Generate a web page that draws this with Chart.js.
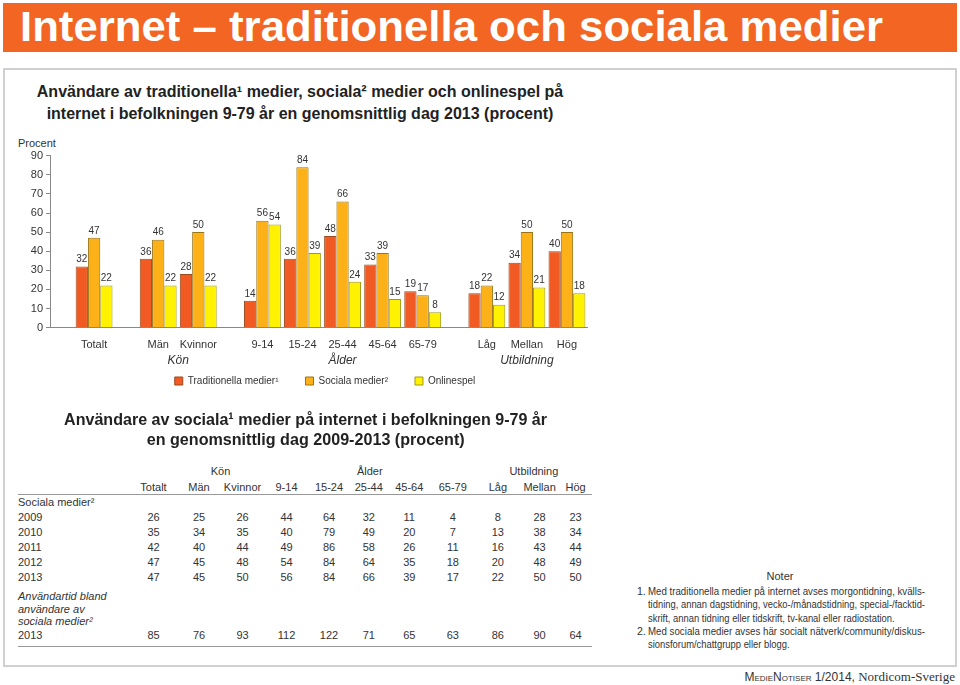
<!DOCTYPE html>
<html>
<head>
<meta charset="utf-8">
<script src="https://cdn.jsdelivr.net/npm/chart.js@4/dist/chart.umd.min.js"></script>
<style>
  body { margin: 0; width: 960px; height: 685px; position: relative; overflow: hidden; background: #fff;
         font-family: "Liberation Sans", Arial, sans-serif; color: #333; }
  #banner { position: absolute; left: 3px; top: 3px; width: 954px; height: 49px; background: #F26522; }
  #banner span { position: absolute; left: 17px; top: 1px; white-space: nowrap; color: #fff; transform-origin: 0 0;
                 font: bold 42px/46px "Liberation Sans", Arial, sans-serif; }
  #frame { position: absolute; left: 3px; top: 68px; width: 954px; height: 599px; border: 2px solid #d0d0d0; box-sizing: border-box; }
  .title { position: absolute; left: 0; width: 600px; text-align: center; font-weight: bold; color: #222; }
  .title span { display: inline-block; white-space: nowrap; }
  #chartTitle { top: 81px; font-size: 16px; line-height: 22px; }
  #tableTitle { top: 410px; width: 612px; font-size: 17px; line-height: 20px; }
  #procent { position: absolute; left: 18px; top: 136px; font-size: 11px; line-height: 14px; }
  #c { position: absolute; left: 0; top: 140px; }
  #tbl { position: absolute; left: 18px; top: 462px; width: 574px; table-layout: fixed; border-collapse: separate;
         border-spacing: 0; font-size: 11px; color: #333; }
  #tbl td { padding: 0; text-align: center; white-space: nowrap; vertical-align: middle; }
  #tbl td.lab { text-align: left; }
  #tbl tr.rule td { border-bottom: 1px solid #999; }
  #tbl tr.it td { vertical-align: top; font-style: italic; line-height: 12.5px; padding-top: 6px; }
  #tbl tr.last td { vertical-align: top; line-height: 15.5px; }
  #noter { position: absolute; left: 630px; top: 569px; width: 300px; text-align: center; font-size: 11px; line-height: 14px; }
  #notes { position: absolute; left: 626px; top: 585px; width: 310px; font-size: 10.5px; line-height: 13.3px; color: #333; }
  #notes div { position: relative; padding-left: 22px; white-space: nowrap; height: 13.3px; }
  #notes .num { position: absolute; left: 11px; }
  #notes .jl { display: inline-block; transform-origin: 0 0; }
  #foot { position: absolute; right: 5px; top: 670px; font-size: 12px; line-height: 14px; white-space: nowrap; color: #333; }
  #foot .sc { font-variant: small-caps; }
  #foot .serif { font-family: "Liberation Serif", "Times New Roman", serif; font-size: 13px; }
</style>
</head>
<body>
<div id="banner"><span id="bannerText">Internet – traditionella och sociala medier</span></div>
<div id="frame"></div>
<div id="chartTitle" class="title">
  <span>Användare av traditionella¹ medier, sociala² medier  och onlinespel på</span><br>
  <span>internet i befolkningen 9-79 år en genomsnittlig dag 2013 (procent)</span>
</div>
<div id="procent">Procent</div>
<canvas id="c" width="650" height="275"></canvas>

<div id="tableTitle" class="title">
  <span id="tt1">Användare av sociala¹ medier på internet i befolkningen 9-79 år</span><br>
  <span id="tt2">en genomsnittlig dag 2009-2013 (procent)</span>
</div>
<table id="tbl"></table>

<div id="noter">Noter</div>
<div id="notes">
  <div><span class="num">1.</span><span class="jl">Med traditionella medier på internet avses morgontidning, kvälls-</span></div>
  <div><span class="jl">tidning, annan dagstidning, vecko-/månadstidning, special-/facktid-</span></div>
  <div><span class="fit">skrift, annan tidning eller tidskrift, tv-kanal eller radiostation.</span></div>
  <div><span class="num">2.</span><span class="jl">Med sociala medier avses här socialt nätverk/community/diskus-</span></div>
  <div><span class="fit">sionsforum/chattgrupp eller blogg.</span></div>
</div>
<div id="foot"><span class="sc">MedieNotiser</span> 1/2014, <span class="serif">Nordicom-Sverige</span></div>

<script>
// chart data
const categories = ['Totalt', 'Män', 'Kvinnor', '9-14', '15-24', '25-44', '45-64', '65-79', 'Låg', 'Mellan', 'Hög'];
const groupNames = ['Kön', 'Ålder', 'Utbildning'];
const categoryGroup = [-1, 0, 0, 1, 1, 1, 1, 1, 2, 2, 2];
const traditionella = [32, 36, 28, 14, 36, 48, 33, 19, 18, 34, 40];
const sociala = [47, 46, 50, 56, 84, 66, 39, 17, 22, 50, 50];
const onlinespel = [22, 22, 22, 54, 39, 24, 15, 8, 12, 21, 18];

// table data
const tableYears = ['2009', '2010', '2011', '2012', '2013'];
const social2009 = [26, 25, 26, 44, 64, 32, 11, 4, 8, 28, 23];
const social2010 = [35, 34, 35, 40, 79, 49, 20, 7, 13, 38, 34];
const social2011 = [42, 40, 44, 49, 86, 58, 26, 11, 16, 43, 44];
const social2012 = [47, 45, 48, 54, 84, 64, 35, 18, 20, 48, 49];
const social2013 = [47, 45, 50, 56, 84, 66, 39, 17, 22, 50, 50];
const usageTime2013 = [85, 76, 93, 112, 122, 71, 65, 63, 86, 90, 64];

// x layout: one unit per category, a wider gap between groups
const groupGap = 0.6;
const slots = categories.map((c, i) => i + (categoryGroup[i] + 1) * groupGap);
const groupSlots = groupNames.map((g, gi) => {
  const s = slots.filter((v, i) => categoryGroup[i] === gi);
  return (s[0] + s[s.length - 1]) / 2;
});
const xMin = -1.1, xMax = 12.3;

Chart.defaults.font.family = '"Liberation Sans", Arial, sans-serif';
Chart.defaults.color = '#333';

const barValues = {
  id: 'barValues',
  afterDatasetsDraw(chart) {
    const ctx = chart.ctx;
    ctx.save();
    ctx.font = '10px "Liberation Sans", Arial, sans-serif';
    ctx.fillStyle = '#333';
    ctx.textAlign = 'center';
    ctx.textBaseline = 'bottom';
    chart.data.datasets.forEach((ds, i) => {
      chart.getDatasetMeta(i).data.forEach((bar, j) => {
        ctx.fillText(ds.data[j].y, bar.x, bar.y - 2);
      });
    });
    ctx.restore();
  }
};

// legend sits centred under the bars and a bit closer to the group titles
const legendShift = {
  id: 'legendShift',
  afterLayout(chart) {
    const lg = chart.legend;
    const dx = 325 - (lg.left + lg.right) / 2;
    lg.left += dx;
    lg.right += dx;
    lg.top -= 19;
    lg.bottom -= 19;
  }
};

function points(values) {
  return values.map((v, i) => ({ x: slots[i], y: v }));
}

new Chart(document.getElementById('c'), {
  type: 'bar',
  data: {
    datasets: [
      { label: 'Traditionella medier¹', data: points(traditionella), backgroundColor: '#F15A22', borderColor: '#9a4a1e', borderWidth: 1 },
      { label: 'Sociala medier²', data: points(sociala), backgroundColor: '#FBB117', borderColor: '#9a7418', borderWidth: 1 },
      { label: 'Onlinespel', data: points(onlinespel), backgroundColor: '#FFF200', borderColor: '#a09a1a', borderWidth: 1 }
    ]
  },
  options: {
    responsive: false,
    animation: false,
    categoryPercentage: 0.92,
    barPercentage: 1,
    layout: { padding: { top: 15.7, right: 63, left: 0, bottom: 0 } },
    plugins: {
      legend: {
        position: 'bottom',
        labels: { boxWidth: 8, boxHeight: 8, padding: 27, color: '#333', font: { size: 10 } }
      },
      tooltip: { enabled: false }
    },
    scales: {
      x: {
        type: 'linear', min: xMin, max: xMax, offset: false,
        grid: { display: false, drawTicks: false },
        border: { color: '#888' },
        afterBuildTicks: s => { s.ticks = slots.map(v => ({ value: v })); },
        ticks: { autoSkip: false, maxRotation: 0, minRotation: 0, padding: 11, font: { size: 11 },
                 callback: (v, i) => categories[i] },
        afterFit: s => { s.height = 24.2; }
      },
      x2: {
        type: 'linear', position: 'bottom', weight: 1, min: xMin, max: xMax, offset: false,
        grid: { display: false, drawTicks: false },
        border: { display: false },
        afterBuildTicks: s => { s.ticks = groupSlots.map(v => ({ value: v })); },
        ticks: { autoSkip: false, maxRotation: 0, minRotation: 0, padding: 2, font: { size: 12, style: 'italic' },
                 callback: (v, i) => groupNames[i] },
        afterFit: s => { s.height = 16.2; }
      },
      y: {
        min: 0, max: 90,
        ticks: { stepSize: 10, padding: 3, font: { size: 11 } },
        grid: { drawOnChartArea: false, drawTicks: true, tickLength: 4, color: '#888' },
        border: { color: '#888' },
        afterFit: s => { s.width = 50; }
      }
    }
  },
  plugins: [barValues, legendShift]
});

// table
const socialRows = [social2009, social2010, social2011, social2012, social2013];
const colWidths = [112, 47, 44, 43, 45, 40, 39.5, 41.5, 45.5, 44.5, 39, 33];
let html = '<colgroup>' + colWidths.map(w => '<col style="width:' + w + 'px">').join('') + '</colgroup>';
html += '<tr style="height:17px"><td></td><td></td>';
groupNames.forEach((g, gi) => {
  html += '<td colspan="' + categoryGroup.filter(x => x === gi).length + '">' + g + '</td>';
});
html += '</tr>';
html += '<tr class="rule" style="height:16px"><td></td>' + categories.map(c => '<td>' + c + '</td>').join('') + '</tr>';
html += '<tr style="height:14px"><td class="lab" colspan="3">Sociala medier²</td>' + '<td></td>'.repeat(9) + '</tr>';
socialRows.forEach((row, r) => {
  html += '<tr style="height:15px"><td class="lab">' + tableYears[r] + '</td>' + row.map(v => '<td>' + v + '</td>').join('') + '</tr>';
});
html += '<tr class="it" style="height:42px"><td class="lab">Användartid bland<br>användare av<br>sociala medier²</td>' + '<td></td>'.repeat(11) + '</tr>';
html += '<tr class="rule last" style="height:19px"><td class="lab">2013</td>' + usageTime2013.map(v => '<td>' + v + '</td>').join('') + '</tr>';
document.getElementById('tbl').innerHTML = html;

// fit wide texts to the widths of the original layout
function fitX(el, w) {
  const natural = el.getBoundingClientRect().width;
  el.style.transform = 'scaleX(' + (w / natural) + ')';
}
function justify(el, w) {
  const natural = el.getBoundingClientRect().width;
  const gaps = (el.textContent.match(/ /g) || []).length;
  if (natural < w && gaps) el.style.wordSpacing = ((w - natural) / gaps) + 'px';
  else if (natural > w) el.style.transform = 'scaleX(' + (w / natural) + ')';
}
fitX(document.getElementById('bannerText'), 863);
fitX(document.getElementById('tt1'), 483);
fitX(document.getElementById('tt2'), 318);
const lineScale = [];
document.querySelectorAll('#notes .jl').forEach(el => {
  lineScale.push(277 / el.getBoundingClientRect().width);
  justify(el, 277);
});
// the unjustified last lines use the same squeeze as the justified ones
const squeeze = Math.min(1, ...lineScale);
document.querySelectorAll('#notes .fit').forEach(el => {
  el.style.display = 'inline-block';
  el.style.transformOrigin = '0 0';
  el.style.transform = 'scaleX(' + squeeze + ')';
});
</script>
</body>
</html>
